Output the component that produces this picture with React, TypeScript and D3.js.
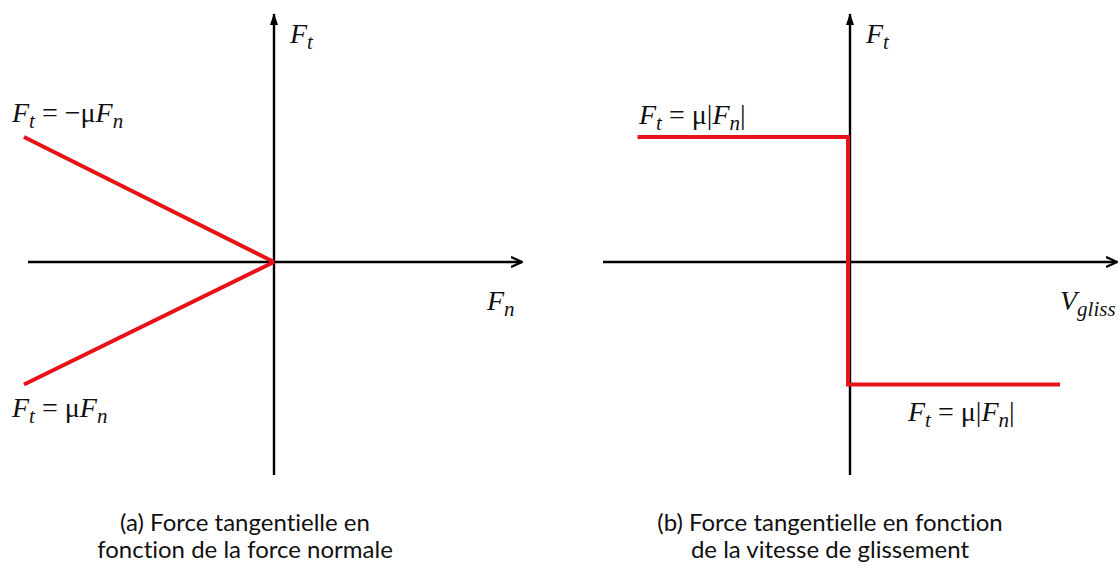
import * as d3 from "d3";

// panel (a): Ft vs Fn, two friction-cone lines meeting at the origin
const coneFn = [-1, 0];
const coneUpper = [0.5, 0];
const coneLower = [-0.49, 0];

// panel (b): Ft vs sliding speed, a signum-like step
const stepV = [-0.85, -0.008, -0.008, 0.84];
const stepFt = [0.5, 0.5, -0.49, -0.49];

// axis extents in data units
const axisA = { xMin: -0.984, xMax: 0.992, yMin: -0.852, yMax: 0.992 };
const axisB = { xMin: -0.988, xMax: 1.068, yMin: -0.852, yMax: 0.992 };

const captionA = ["(a) Force tangentielle en", "fonction de la force normale"];
const captionB = ["(b) Force tangentielle en fonction", "de la vitesse de glissement"];

const W = 1120;
const H = 566;
const RED = "#e8121a";
const mathFont = "'Liberation Serif', serif";
const textFont = "Lato, 'Open Sans', sans-serif";

const unit = 250; // px per data unit
const yScale = d3.scaleLinear().domain([0, 1]).range([262, 262 - unit]);
const xA = d3.scaleLinear().domain([0, 1]).range([274, 274 + unit]);
const xB = d3.scaleLinear().domain([0, 1]).range([850, 850 + unit]);

type Part = { t: string; it?: boolean; sub?: boolean };

// F_t = ... written with tspans, subscripts dropped a bit
const MathLabel = ({ x, y, parts }: { x: number; y: number; parts: Part[] }) => (
  <text x={x} y={y} fontFamily={mathFont} fontSize={28} fill="#111">
    {parts.map((p, i) => {
      const prevSub = i > 0 && parts[i - 1].sub;
      const dy = p.sub && !prevSub ? 6 : !p.sub && prevSub ? -6 : 0;
      return (
        <tspan key={i} dy={dy} fontStyle={p.it ? "italic" : "normal"} fontSize={p.sub ? 21 : 28}>
          {p.t}
        </tspan>
      );
    })}
  </text>
);

const Axes = ({ x, ext, id }: { x: d3.ScaleLinear<number, number>; ext: typeof axisA; id: string }) => (
  <g stroke="#000" strokeWidth={2.4}>
    <line x1={x(ext.xMin)} x2={x(ext.xMax)} y1={yScale(0)} y2={yScale(0)} markerEnd={`url(#hx${id})`} />
    <line x1={x(0)} x2={x(0)} y1={yScale(ext.yMin)} y2={yScale(ext.yMax)} markerEnd={`url(#vy${id})`} />
  </g>
);

const Defs = ({ id }: { id: string }) => (
  <defs>
    <marker id={`hx${id}`} viewBox="0 -6 12 12" refX={11} refY={0} markerWidth={12} markerHeight={12} markerUnits="userSpaceOnUse" orient="auto">
      <path d="M0,-5L11,0L0,5" fill="none" stroke="#000" strokeWidth={2.4} />
    </marker>
    <marker id={`vy${id}`} viewBox="0 -5 12 10" refX={11} refY={0} markerWidth={12} markerHeight={10} markerUnits="userSpaceOnUse" orient="auto">
      <path d="M0,-4L12,0L0,4Z" fill="#000" />
    </marker>
  </defs>
);

export default function App() {
  const line = d3.line<[number, number]>();
  const upper = line(coneFn.map((v, i) => [xA(v), yScale(coneUpper[i])]));
  const lower = line(coneFn.map((v, i) => [xA(v), yScale(coneLower[i])]));
  const step = line(stepV.map((v, i) => [xB(v), yScale(stepFt[i])]));

  const Ft: Part[] = [{ t: "F", it: true }, { t: "t", it: true, sub: true }];
  const Fn: Part[] = [{ t: "F", it: true }, { t: "n", it: true, sub: true }];

  return (
    <svg width={W} height={H} style={{ position: "absolute", left: 0, top: 0, background: "#fff" }}>
      <Defs id="a" />
      <Defs id="b" />

      {/* (a) */}
      <Axes x={xA} ext={axisA} id="a" />
      <path d={upper ?? ""} stroke={RED} strokeWidth={4} fill="none" />
      <path d={lower ?? ""} stroke={RED} strokeWidth={4} fill="none" />
      <MathLabel x={290} y={43} parts={Ft} />
      <MathLabel x={487} y={310} parts={Fn} />
      <MathLabel x={12} y={122} parts={[...Ft, { t: " = −μ" }, ...Fn]} />
      <MathLabel x={12} y={417} parts={[...Ft, { t: " = μ" }, ...Fn]} />

      {/* (b) */}
      <Axes x={xB} ext={axisB} id="b" />
      <path d={step ?? ""} stroke={RED} strokeWidth={4} fill="none" />
      <MathLabel x={866} y={43} parts={Ft} />
      <MathLabel x={1060} y={310} parts={[{ t: "V", it: true }, { t: "gliss", it: true, sub: true }]} />
      <MathLabel x={639} y={124} parts={[...Ft, { t: " = μ|" }, ...Fn, { t: "|" }]} />
      <MathLabel x={908} y={421} parts={[...Ft, { t: " = μ|" }, ...Fn, { t: "|" }]} />

      <g fontFamily={textFont} fontSize={24} fill="#111" textAnchor="middle" style={{ fontVariantLigatures: "none" }}>
        {captionA.map((s, i) => (
          <text key={s} x={245} y={531 + i * 27}>{s}</text>
        ))}
        {captionB.map((s, i) => (
          <text key={s} x={830} y={531 + i * 27}>{s}</text>
        ))}
      </g>
    </svg>
  );
}
